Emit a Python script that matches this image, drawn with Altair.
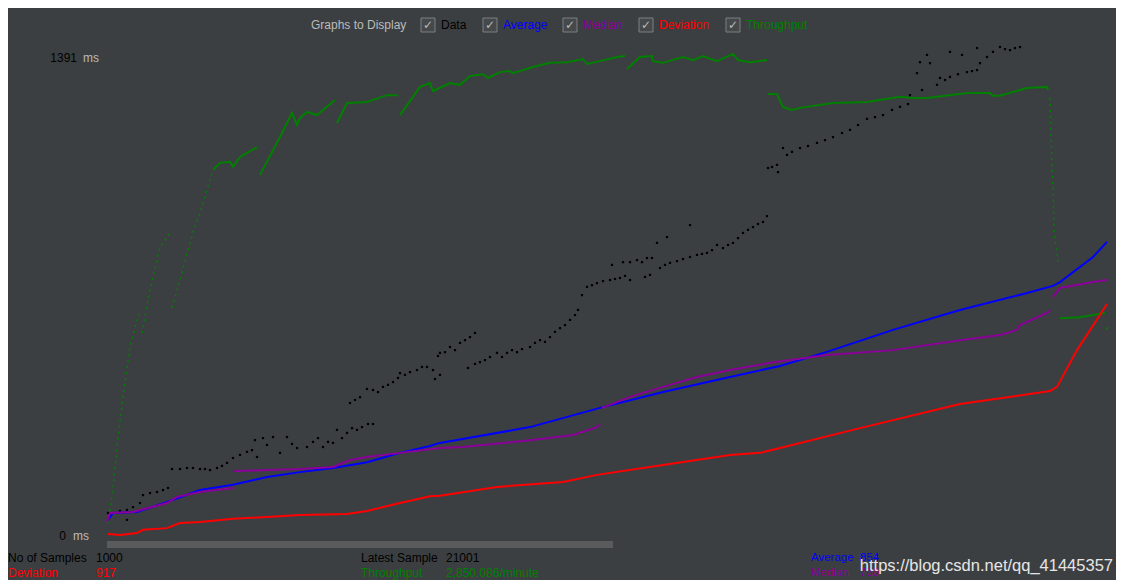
import altair as alt
import pandas as pd

# ---------------- data (sample index, milliseconds) ----------------
avg_s = [1, 6, 30, 60, 93, 126, 160, 193, 226, 260, 293, 323, 333, 423, 493, 556, 623, 673, 720, 786, 853, 920, 946, 953, 986, 1000]
avg_ms = [44, 64, 67, 96, 131, 146, 169, 183, 195, 212, 239, 259, 268, 314, 370, 416, 460, 492, 533, 597, 655, 704, 725, 736, 809, 853]

med_a_s = [0, 3, 26, 60, 70, 93, 126]
med_a_ms = [38, 64, 67, 93, 111, 125, 137]
med_b_s = [126, 193, 226, 243, 260, 293, 333, 356, 423, 466, 490, 493]
med_b_ms = [186, 192, 198, 218, 227, 239, 253, 256, 276, 291, 314, 323]
med_c_s = [495, 523, 556, 590, 623, 663, 720, 786, 853, 893, 910, 913, 940, 943]
med_c_ms = [370, 402, 431, 460, 480, 501, 524, 538, 567, 582, 597, 611, 646, 655]
med_d_s = [946, 953, 986, 1000]
med_d_ms = [693, 719, 736, 742]

dev_s = [1, 13, 30, 36, 60, 73, 93, 126, 193, 240, 260, 293, 323, 333, 390, 456, 490, 556, 623, 653, 673, 753, 853, 943, 950, 970, 1000]
dev_ms = [3, 0, 6, 15, 20, 35, 38, 47, 58, 61, 70, 93, 113, 114, 140, 154, 175, 204, 233, 239, 253, 311, 381, 419, 431, 538, 672]

# throughput segments (drawn on the same scale as in the screenshot)
tp_g1 = [(1, 35), (5, 111), (10, 256), (16, 402), (23, 547), (30, 626), (33, 646)]
tp_g2 = [(35, 588), (43, 713), (53, 838), (63, 879)]
tp_g3a = [(65, 661), (73, 742), (86, 882), (93, 937), (106, 1062)]
tp_g3b = [(106, 1062), (113, 1083), (123, 1086), (126, 1071), (133, 1100), (150, 1129)]
tp_g4 = [(153, 1048), (173, 1158), (185, 1228), (190, 1193), (193, 1213), (200, 1231), (210, 1222), (228, 1266)]
tp_g5 = [(230, 1199), (240, 1257), (260, 1260), (280, 1280), (291, 1280)]
tp_g6 = [(293, 1222), (313, 1304), (323, 1315), (326, 1292), (343, 1315), (353, 1310), (363, 1336), (376, 1341),
         (381, 1330), (393, 1347), (403, 1350), (406, 1344), (426, 1362), (443, 1374), (460, 1376), (476, 1385),
         (480, 1371), (493, 1379), (510, 1391), (518, 1394)]
tp_g7 = [(520, 1356), (533, 1391), (545, 1394), (546, 1379), (556, 1374), (576, 1391), (586, 1382), (596, 1394),
         (610, 1379), (626, 1400), (631, 1382), (643, 1376), (660, 1382)]
tp_g8 = [(661, 1283), (670, 1283), (676, 1246), (685, 1237), (693, 1243), (726, 1257), (760, 1260), (793, 1275),
         (806, 1272), (820, 1272), (860, 1286), (883, 1286), (886, 1278), (893, 1278), (920, 1301), (940, 1304), (941, 1295)]
tp_g9 = [(943, 1272), (945, 1071), (946, 1019), (947, 893), (948, 858), (950, 824), (951, 792)]
tp_g10 = [(953, 631), (973, 634), (998, 646)]
tp_last = [(1000, 602)]

data_pts = [
    (1, 64), (13, 70), (20, 73), (20, 44), (26, 81), (33, 93), (36, 116), (43, 122), (50, 125), (56, 131), (61, 137),
    (65, 192), (73, 192), (80, 195), (86, 195), (93, 192), (98, 192), (103, 189), (110, 195), (115, 201), (120, 210),
    (126, 224), (133, 233), (140, 242), (145, 247), (148, 276), (150, 227), (156, 282), (160, 262), (166, 285),
    (173, 239), (180, 285), (185, 265), (190, 253), (200, 256), (206, 271), (211, 282), (216, 256), (221, 271),
    (226, 268), (230, 306), (235, 282), (240, 297), (245, 311), (250, 306), (255, 314), (261, 323), (266, 323),
    (243, 384), (248, 393), (253, 401), (260, 425), (266, 422), (271, 416), (276, 431), (281, 437), (286, 445),
    (291, 457), (293, 471), (298, 466), (303, 474), (310, 480), (315, 489), (320, 489), (326, 480), (331, 521),
    (333, 530), (338, 532), (343, 547), (348, 538), (353, 559), (358, 567), (363, 576), (368, 588), (333, 466), (328, 454),
    (361, 486), (368, 498), (373, 503), (378, 509), (383, 518), (390, 530), (395, 518), (400, 530), (405, 538),
    (410, 532), (415, 541), (423, 547), (428, 559), (433, 567), (438, 562), (443, 576), (448, 591), (453, 602),
    (458, 611), (463, 626), (468, 640), (471, 655),
    (475, 698), (480, 722), (485, 727), (490, 733), (496, 739), (503, 742), (508, 745), (513, 748), (518, 754),
    (523, 742), (516, 794), (523, 794), (530, 800), (535, 794), (540, 806), (545, 806), (550, 850), (543, 757),
    (538, 751), (505, 786),
    (553, 777), (558, 786), (563, 792), (570, 797), (576, 803), (583, 809), (590, 815), (595, 818), (600, 821),
    (605, 829), (610, 844), (616, 835), (621, 844), (626, 850), (631, 864), (636, 879), (641, 888), (646, 896),
    (651, 905), (656, 911), (660, 928), (560, 867), (583, 902),
    (661, 1068), (665, 1071), (670, 1077), (671, 1056), (676, 1126), (680, 1106), (685, 1115), (693, 1126),
    (701, 1132), (710, 1141), (718, 1149), (726, 1158), (735, 1170), (743, 1179), (751, 1193), (760, 1211),
    (768, 1216), (776, 1222), (785, 1237), (793, 1246), (801, 1254),
    (803, 1280), (810, 1344), (813, 1376), (820, 1397), (823, 1373), (815, 1295), (830, 1310), (833, 1330),
    (838, 1324), (843, 1333), (851, 1341), (860, 1347), (865, 1350), (870, 1353), (873, 1373), (880, 1391),
    (886, 1406), (893, 1420), (898, 1414), (903, 1411), (908, 1417), (913, 1420), (843, 1406), (855, 1397), (870, 1417),
]

legend_names = ["Data", "Average", "Median", "Deviation", "Throughput"]
legend_colors = ["#000000", "#0000FF", "#8B0099", "#FF0000", "#008000"]

# ---------------- build tables ----------------
rows = []
def add(series, seg, xs, ys):
    for i, (a, b) in enumerate(zip(xs, ys)):
        rows.append({"series": series, "seg": f"{series}-{seg}", "s": a, "ms": b, "i": i})

add("Average", 0, avg_s, avg_ms)
add("Median", 0, med_a_s, med_a_ms)
add("Median", 1, med_b_s, med_b_ms)
add("Median", 2, med_c_s, med_c_ms)
add("Median", 3, med_d_s, med_d_ms)
add("Deviation", 0, dev_s, dev_ms)
lines_df = pd.DataFrame(rows)

solid_tp = [tp_g3b, tp_g4, tp_g5, tp_g6, tp_g7, tp_g8, tp_g10]
dash_tp = [tp_g1, tp_g2, tp_g3a, tp_g9]
tp_solid_df = pd.DataFrame([{"seg": k, "s": a, "ms": b, "i": i}
                            for k, seg in enumerate(solid_tp) for i, (a, b) in enumerate(seg)])
tp_dash_df = pd.DataFrame([{"seg": k, "s": a, "ms": b, "i": i}
                           for k, seg in enumerate(dash_tp) for i, (a, b) in enumerate(seg)])
tp_pt_df = pd.DataFrame([{"s": a, "ms": b} for a, b in tp_last])
data_df = pd.DataFrame([{"s": a, "ms": b} for a, b in data_pts])

BG = "#3C3F41"
W, H = 1108, 572
xs = alt.Scale(domain=[-99, 1009], nice=False, zero=False)
ys = alt.Scale(domain=[-130.95, 1533.6], nice=False, zero=False)
X = alt.X("s:Q", scale=xs, axis=None)
Y = alt.Y("ms:Q", scale=ys, axis=None)

data_layer = alt.Chart(data_df).mark_square(size=5, color="#000000", opacity=1).encode(x=X, y=Y)

tp_dash = alt.Chart(tp_dash_df).mark_line(color="#008000", strokeWidth=1.5, strokeDash=[2, 4]).encode(
    x=X, y=Y, detail="seg:N", order="i:Q")
tp_solid = alt.Chart(tp_solid_df).mark_line(color="#008000", strokeWidth=2).encode(
    x=X, y=Y, detail="seg:N", order="i:Q")
tp_pt = alt.Chart(tp_pt_df).mark_square(size=4, color="#008000", opacity=1).encode(x=X, y=Y)

stat_lines = alt.Chart(lines_df).mark_line(strokeWidth=2).encode(
    x=X, y=Y, detail="seg:N", order="i:Q",
    color=alt.Color("series:N", scale=alt.Scale(domain=["Average", "Median", "Deviation"],
                                                 range=["#0000FF", "#8B0099", "#FF0000"]), legend=None))

one = pd.DataFrame({"a": [0]})
FONT = "Liberation Sans"

def txt(text, px, py, color, size=12, align="left", font=FONT):
    # px, py are page coordinates; chart origin sits at the 8px page margin
    return alt.Chart(one).mark_text(text=text, align=align, baseline="middle", font=font,
                                    fontSize=size, color=color).encode(
        x=alt.value(px - 8), y=alt.value(py - 8))

def box(x1, y1, x2, y2, fill, stroke=None):
    kw = dict(fill=fill)
    if stroke:
        kw.update(stroke=stroke, strokeWidth=1)
    return alt.Chart(one).mark_rect(**kw).encode(
        x=alt.value(x1 - 8), x2=alt.value(x2 - 8), y=alt.value(y1 - 8), y2=alt.value(y2 - 8))

deco = []
# legend row
deco.append(txt("Graphs to Display", 311, 25, "#BBBBBB"))
cb_centers = [428, 490, 570, 646, 733]
label_x = [441, 503, 583, 659, 746]
for cx, lx, name, col in zip(cb_centers, label_x, legend_names, legend_colors):
    deco.append(box(cx - 7, 18, cx + 7, 32, "#45494A", "#7D8082"))
    deco.append(txt("✓", cx, 25, "#BBBBBB", size=12, align="center", font="DejaVu Sans"))
    deco.append(txt(name, lx, 25, col))

# y labels
deco.append(txt("1391", 77, 58, "#000000", align="right"))
deco.append(txt("ms", 83, 58, "#BBBBBB"))
deco.append(txt("0", 66, 536, "#000000", align="right"))
deco.append(txt("ms", 73, 536, "#BBBBBB"))

# scrollbar
deco.append(box(107, 541, 613, 548, "#595B5D"))

# bottom statistics
R1, R2 = 558, 573
deco.append(txt("No of Samples", 8, R1, "#000000"))
deco.append(txt("1000", 96, R1, "#000000"))
deco.append(txt("Deviation", 8, R2, "#FF0000"))
deco.append(txt("917", 96, R2, "#FF0000"))
deco.append(txt("Latest Sample", 361, R1, "#000000"))
deco.append(txt("21001", 446, R1, "#000000"))
deco.append(txt("Throughput", 361, R2, "#008000"))
deco.append(txt("2,850.086/minute", 446, R2, "#008000"))
deco.append(txt("Average", 811, R1, "#0000FF", size=11.5))
deco.append(txt("854", 860, R1, "#0000FF", size=11.5))
deco.append(txt("Median", 811, R2, "#8B0099", size=11.5))
deco.append(txt("730", 860, R2, "#8B0099", size=11.5))
deco.append(txt("https://blog.csdn.net/qq_41445357", 1113, 566, "#E6E6E6", size=16.5, align="right"))

chart = alt.layer(tp_dash, tp_solid, tp_pt, data_layer, stat_lines, *deco).properties(
    width=W, height=H, background=BG, padding=0,
    autosize=alt.AutoSizeParams(type="none"),
).configure_view(strokeWidth=0, fill=BG)

chart.save("out.html", embed_options={"renderer": "svg", "actions": False})
